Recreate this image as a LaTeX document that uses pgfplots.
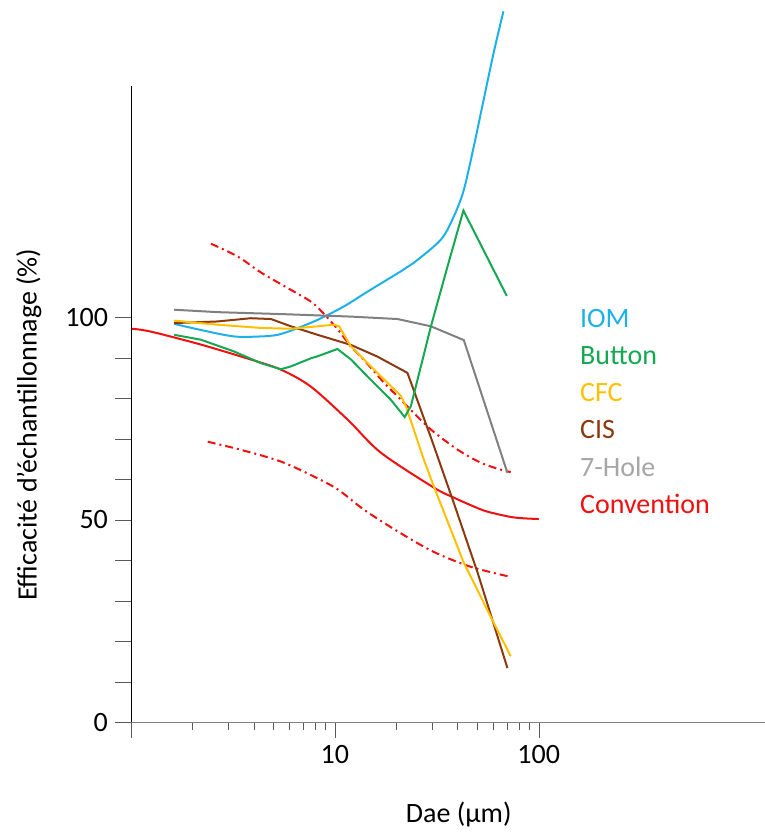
\documentclass[border=0pt]{standalone}
\usepackage{fontspec}
\setmainfont{Carlito}
\usepackage{pgfplots}
\pgfplotsset{compat=1.18}
\definecolor{iom}{HTML}{1EB1E8}
\definecolor{button}{HTML}{14A850}
\definecolor{cfc}{HTML}{FFC000}
\definecolor{cis}{HTML}{8B3A10}
\definecolor{hole}{HTML}{808080}
\definecolor{holetxt}{HTML}{A6A6A6}
\definecolor{conv}{HTML}{F01010}

\begin{document}
\begin{tikzpicture}
\begin{axis}[
  scale only axis,
  width=317pt, height=318.35pt,
  xmode=log,
  xmin=1, xmax=1282,
  ymin=0, ymax=157.2,
  axis lines*=left,
  x axis line style={gray},
  y axis line style={black},
  clip=false,
  tick align=outside,
  major tick length=8pt,
  minor tick length=4pt,
  tick style={black!65},
  xtick={1,10,100},
  xticklabels={,10,100},
  minor xtick={2,3,4,5,6,7,8,9,20,30,40,50,60,70,80,90},
  ytick={0,10,20,30,40,50,60,70,80,90,100},
  yticklabels={0,,,,,50,,,,,100},
  ticklabel style={font=\fontsize{14}{17}\selectfont},
  /pgf/number format/assume math mode=true,
  every axis plot/.append style={line width=1pt},
]
% Convention (solid) and its two dash-dot bounds
\addplot[conv, smooth, tension=0.5] coordinates {
  (1.01,97.2) (1.25,96.5) (2.20,93.3) (3.87,89.6) (5.44,87.1) (7.63,82.9)
  (11.58,74.7) (16.8,66.6) (30.5,58.0) (38.3,55.5) (48.0,53.3) (56.2,52.0)
  (75.4,50.6) (100,50.2)};
\addplot[conv, smooth, tension=0.5, dash pattern=on 4pt off 2pt on 1pt off 2pt] coordinates {
  (2.47,118.2) (3.35,115.0) (4.34,111.1) (6.09,106.8) (7.63,103.9) (8.83,100.9)
  (10.35,97.0) (12.0,92.8) (13.9,89.5) (17.4,83.9) (20.4,80.4) (22.8,77.9)
  (29.6,72.3) (40.1,67.3) (52.0,64.1) (65.1,62.4) (72.9,61.8)};
\addplot[conv, smooth, tension=0.5, dash pattern=on 4pt off 2pt on 1pt off 2pt] coordinates {
  (2.38,69.3) (3.46,67.3) (5.44,64.4) (7.89,60.7) (10.35,57.5) (13.9,52.5)
  (20.4,47.1) (30.5,42.1) (46.4,38.4) (72.9,35.9)};
% IOM
\addplot[iom, smooth, tension=0.5] coordinates {
  (1.63,98.4) (2.20,96.9) (3.20,95.3) (4.34,95.3) (5.24,95.7) (6.30,97.0)
  (8.23,99.4) (11.07,102.7) (14.5,106.4) (21.1,111.4) (24.4,113.5)
  (33.1,119.2) (38.3,124.9) (42.9,131.5) (48.0,142.2) (53.7,153.8)
  (60.1,165.4) (67.1,175.6)};
% 7-Hole
\addplot[hole] coordinates {
  (1.63,101.9) (2.66,101.3) (5.62,100.8) (12.0,100.2) (20.3,99.6)
  (29.6,97.8) (42.9,94.4) (70.2,61.6)};
% CIS
\addplot[cis] coordinates {
  (1.63,98.6) (2.66,99.0) (3.87,99.8) (4.86,99.6) (6.09,97.8) (8.23,95.7)
  (12.0,93.2) (16.2,90.3) (22.7,86.3) (29.6,70.3) (38.3,54.2) (50.1,37.0)
  (70.2,13.4)};
% CFC
\addplot[cfc] coordinates {
  (1.63,99.2) (2.66,98.2) (4.34,97.4) (6.09,97.2) (8.23,97.8) (9.89,98.2)
  (10.5,97.8) (12.0,92.8) (15.5,87.2) (21.1,80.6) (22.3,78.1) (27.3,64.9)
  (30.5,58.4) (42.9,39.4) (60.1,24.6) (72.9,16.3)};
% Button
\addplot[button] coordinates {
  (1.63,95.7) (2.20,94.5) (3.20,91.6) (4.34,88.7) (5.44,87.2) (6.09,87.9)
  (7.63,89.9) (8.23,90.4) (10.3,92.2) (12.0,89.6) (13.9,86.3) (16.2,82.9)
  (18.8,79.7) (22.0,75.4) (23.6,78.1) (29.6,97.8) (35.7,112.6) (42.7,126.4)
  (69.7,105.3)};

\begin{scope}[every node/.style={font=\fontsize{14}{17}\selectfont, inner sep=0pt, anchor=base west}]
\node[iom] at (axis cs:158.8,97.6) {IOM};
\node[button] at (axis cs:158.8,88.3) {Button};
\node[cfc] at (axis cs:158.8,79.2) {CFC};
\node[cis] at (axis cs:158.8,70.0) {CIS};
\node[holetxt] at (axis cs:158.8,60.7) {7-Hole};
\node[conv] at (axis cs:158.8,51.5) {Convention};
\end{scope}

\node[font=\fontsize{14}{17}\selectfont, inner sep=0pt, anchor=base] at (axis cs:40.5,-24.7) {Dae (µm)};
\node[font=\fontsize{14}{17}\selectfont, inner sep=0pt, rotate=90, anchor=center] at (axis cs:0.316,73.5) {Efficacité d’échantillonnage (\%)};

\coordinate (bbl) at (axis cs:0.228,-27.1);
\coordinate (btr) at (axis cs:1282,178.4);
\end{axis}
\pgfresetboundingbox
\path (bbl) rectangle (btr);
\end{tikzpicture}
\end{document}
